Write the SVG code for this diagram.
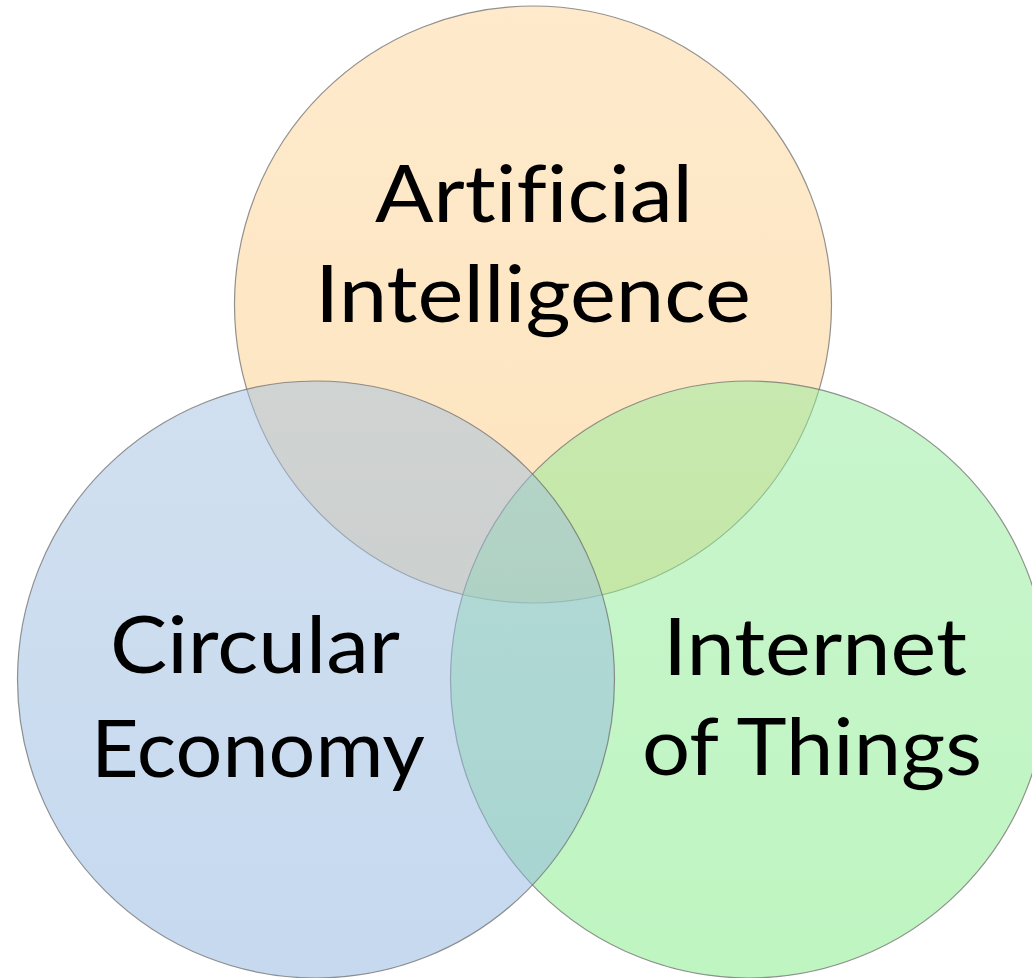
<svg xmlns="http://www.w3.org/2000/svg" width="1032" height="978" viewBox="0 0 1032 978">
  <defs>
    <linearGradient id="gOrange" x1="0" y1="0" x2="0" y2="1">
      <stop offset="0" stop-color="#FDD599"/>
      <stop offset="1" stop-color="#FBC97D"/>
    </linearGradient>
    <linearGradient id="gGreen" x1="0" y1="0" x2="0" y2="1">
      <stop offset="0" stop-color="#93EB9B"/>
      <stop offset="1" stop-color="#7FEB83"/>
    </linearGradient>
    <linearGradient id="gBlue" x1="0" y1="0" x2="0" y2="1">
      <stop offset="0" stop-color="#A3C1E1"/>
      <stop offset="1" stop-color="#8DB3DF"/>
    </linearGradient>
  </defs>
  <style>
    .set { fill-opacity: 0.5; stroke: #6f6f6f; stroke-opacity: 0.75; stroke-width: 1.2; }
    .lbl { font-family: "Lato", "Open Sans", "Liberation Sans", sans-serif; font-size: 80px; fill: #000000; text-anchor: middle; font-variant-ligatures: none; font-feature-settings: "liga" 0; }
  </style>
  <rect x="0" y="0" width="1032" height="978" fill="#FFFFFF"/>
  <g id="connectors"/>
  <g id="node-ai">
    <circle class="set" cx="533" cy="304.5" r="298.5" fill="url(#gOrange)"/>
    <text class="lbl" x="534" y="222" textLength="318" lengthAdjust="spacingAndGlyphs">Artificial</text>
    <text class="lbl" x="533" y="322" textLength="436" lengthAdjust="spacingAndGlyphs">Intelligence</text>
  </g>
  <g id="node-iot">
    <circle class="set" cx="749" cy="679.5" r="298.5" fill="url(#gGreen)"/>
    <text class="lbl" x="815" y="675" textLength="304" lengthAdjust="spacingAndGlyphs">Internet</text>
    <text class="lbl" x="812" y="775" textLength="340" lengthAdjust="spacingAndGlyphs">of Things</text>
  </g>
  <g id="node-ce">
    <circle class="set" cx="316" cy="679.5" r="298.5" fill="url(#gBlue)"/>
    <text class="lbl" x="255" y="673" textLength="290" lengthAdjust="spacingAndGlyphs">Circular</text>
    <text class="lbl" x="258" y="777" textLength="334" lengthAdjust="spacingAndGlyphs">Economy</text>
  </g>
</svg>
